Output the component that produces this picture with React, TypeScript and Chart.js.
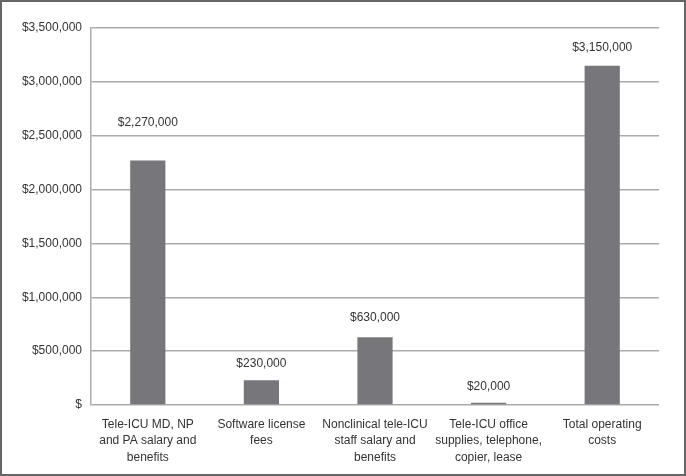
import React, { useEffect, useRef } from "react";
import { Chart, registerables } from "chart.js";

Chart.register(...registerables);

const categories: string[][] = [
  ["Tele-ICU MD, NP", "and PA salary and", "benefits"],
  ["Software license", "fees"],
  ["Nonclinical tele-ICU", "staff salary and", "benefits"],
  ["Tele-ICU office", "supplies, telephone,", "copier, lease"],
  ["Total operating", "costs"],
];
const costs: number[] = [2270000, 230000, 630000, 20000, 3150000];
const labelGaps: number[] = [38, 17, 19, 16, 18];

const fmt = (v: number) => (v === 0 ? "$" : "$" + v.toLocaleString("en-US"));

const FONT = "'Liberation Sans', Arial, sans-serif";
const FS = 12;

export default function App() {
  const ref = useRef<HTMLCanvasElement>(null);
  useEffect(() => {
    if (!ref.current) return;
    const labelPlugin = {
      id: "valueLabels",
      afterDatasetsDraw(chart: any) {
        const ctx = chart.ctx;
        const meta = chart.getDatasetMeta(0);
        ctx.save();
        ctx.font = `${FS}px ${FONT}`;
        ctx.fillStyle = "#333333";
        ctx.textAlign = "center";
        ctx.textBaseline = "middle";
        meta.data.forEach((bar: any, i: number) => {
          ctx.fillText(fmt(costs[i]), bar.x, bar.y - labelGaps[i]);
        });
        ctx.restore();
      },
    };
    const borderPlugin = {
      id: "frame",
      afterDraw(chart: any) {
        const ctx = chart.ctx;
        ctx.save();
        ctx.strokeStyle = "#666666";
        ctx.lineWidth = 2;
        ctx.strokeRect(1, 1, chart.width - 2, chart.height - 2);
        ctx.restore();
      },
    };
    const chart = new Chart(ref.current, {
      type: "bar",
      data: {
        labels: categories,
        datasets: [
          {
            data: costs,
            backgroundColor: "#77777b",
            barPercentage: 0.31,
            categoryPercentage: 1,
          },
        ],
      },
      options: {
        animation: false,
        responsive: false,
        layout: { padding: { top: 28, right: 27, bottom: 10, left: 0 } },
        plugins: { legend: { display: false }, tooltip: { enabled: false } },
        scales: {
          x: {
            grid: { display: false, drawTicks: false },
            border: { display: false },
            ticks: {
              color: "#333333",
              font: { family: FONT, size: FS, lineHeight: 1.34 },
              padding: 12,
              maxRotation: 0,
              autoSkip: false,
            },
            afterFit: (s: any) => {
              s.height = 61;
            },
          },
          y: {
            min: 0,
            max: 3500000,
            grid: { color: "#ababab", lineWidth: 1.5, drawTicks: false },
            border: { display: true, color: "#ababab", width: 1.5 },
            ticks: {
              stepSize: 500000,
              color: "#333333",
              font: { family: FONT, size: FS },
              padding: 9,
              callback: (v: any) => fmt(Number(v)),
            },
            afterFit: (s: any) => {
              s.width = 91;
            },
          },
        },
      },
      plugins: [labelPlugin, borderPlugin],
    });
    return () => chart.destroy();
  }, []);
  return (
    <div style={{ position: "fixed", left: 0, top: 0, width: 686, height: 476, background: "#fff" }}>
      <canvas ref={ref} width={686} height={476} style={{ width: 686, height: 476, display: "block" }} />
    </div>
  );
}
